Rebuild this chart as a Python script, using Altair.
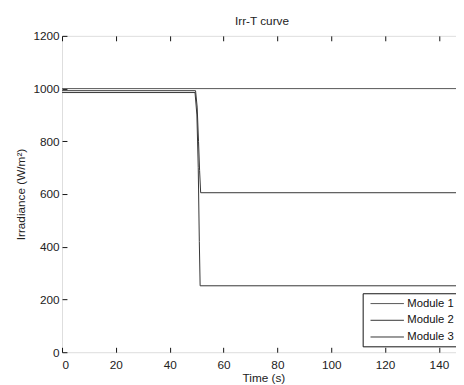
import altair as alt
import pandas as pd

# ---- data ----
modules = ["Module 1", "Module 2", "Module 3"]
time_m1 = [0, 150]
irr_m1 = [1000, 1000]
time_m2 = [0, 49.6, 50.2, 50.7, 51.1, 51.5, 150]
irr_m2 = [992, 992, 930, 800, 690, 605, 605]
time_m3 = [0, 49.4, 50.1, 50.6, 51.0, 51.3, 150]
irr_m3 = [985, 985, 900, 700, 420, 252, 252]

x_ticks = [0, 20, 40, 60, 80, 100, 120, 140]
y_ticks = [0, 200, 400, 600, 800, 1000, 1200]

rows = []
for name, ts, vs in zip(modules, [time_m1, time_m2, time_m3], [irr_m1, irr_m2, irr_m3]):
    for i, (t, v) in enumerate(zip(ts, vs)):
        rows.append({"module": name, "t": t, "v": v, "order": i})
df = pd.DataFrame(rows)

FONT = "Liberation Sans, Arial, sans-serif"
W, H = 401, 322
XR = 411  # pixel span of 0..150 (plot is cropped at the right like the reference)

xs = alt.Scale(domain=[0, 150], range=[0, XR], nice=False, zero=False)
ys = alt.Scale(domain=[0, 1200], nice=False)

common = dict(labelFont=FONT, labelFontSize=12, labelColor="#222", format="d",
              titleFont=FONT, titleFontSize=12, titleFontWeight="normal", titleColor="#222",
              domain=False, ticks=False,
              grid=True, gridColor="#111", gridOpacity=1, gridWidth=1)

chart = alt.Chart(df).mark_line(clip=True, strokeWidth=1).encode(
    x=alt.X("t:Q", scale=xs, axis=alt.Axis(orient="bottom", values=x_ticks,
                                            gridDash=[5, H - 10, 5, 3000],
                                            labelPadding=8, title="Time (s)", titleX=205,
                                            titlePadding=2, **common)),
    y=alt.Y("v:Q", scale=ys, axis=alt.Axis(orient="left", values=y_ticks,
                                            gridDash=[5, XR - 10, 5, 3000],
                                            labelPadding=3, title="Irradiance (W/m²)",
                                            titlePadding=6, **common)),
    color=alt.Color("module:N", sort=modules,
                    scale=alt.Scale(domain=modules, range=["#555555", "#333333", "#333333"]),
                    legend=alt.Legend(orient="none", legendX=306, legendY=262, title=None,
                                      strokeColor="#111", fillColor="white", padding=4,
                                      symbolType="M-2.8333,0H2.8333", symbolSize=144,
                                      symbolStrokeWidth=1, symbolOffset=14.5,
                                      labelFont=FONT, labelFontSize=11.5, labelColor="#111",
                                      labelOffset=14, rowPadding=5,
                                      labelExpr="datum.label + '      '")),
    order="order:Q",
).properties(
    width=W, height=H,
    title=alt.TitleParams("Irr-T curve", font=FONT, fontSize=12, fontWeight="normal",
                          color="#222", offset=2, dx=3),
    autosize=alt.AutoSizeParams(type="none"),
    padding={"left": 55, "top": 25, "right": 0, "bottom": 30},
).configure_view(stroke="#111", strokeWidth=1).configure(background="white")

chart.save("out.html", embed_options={"renderer": "svg", "actions": False})
